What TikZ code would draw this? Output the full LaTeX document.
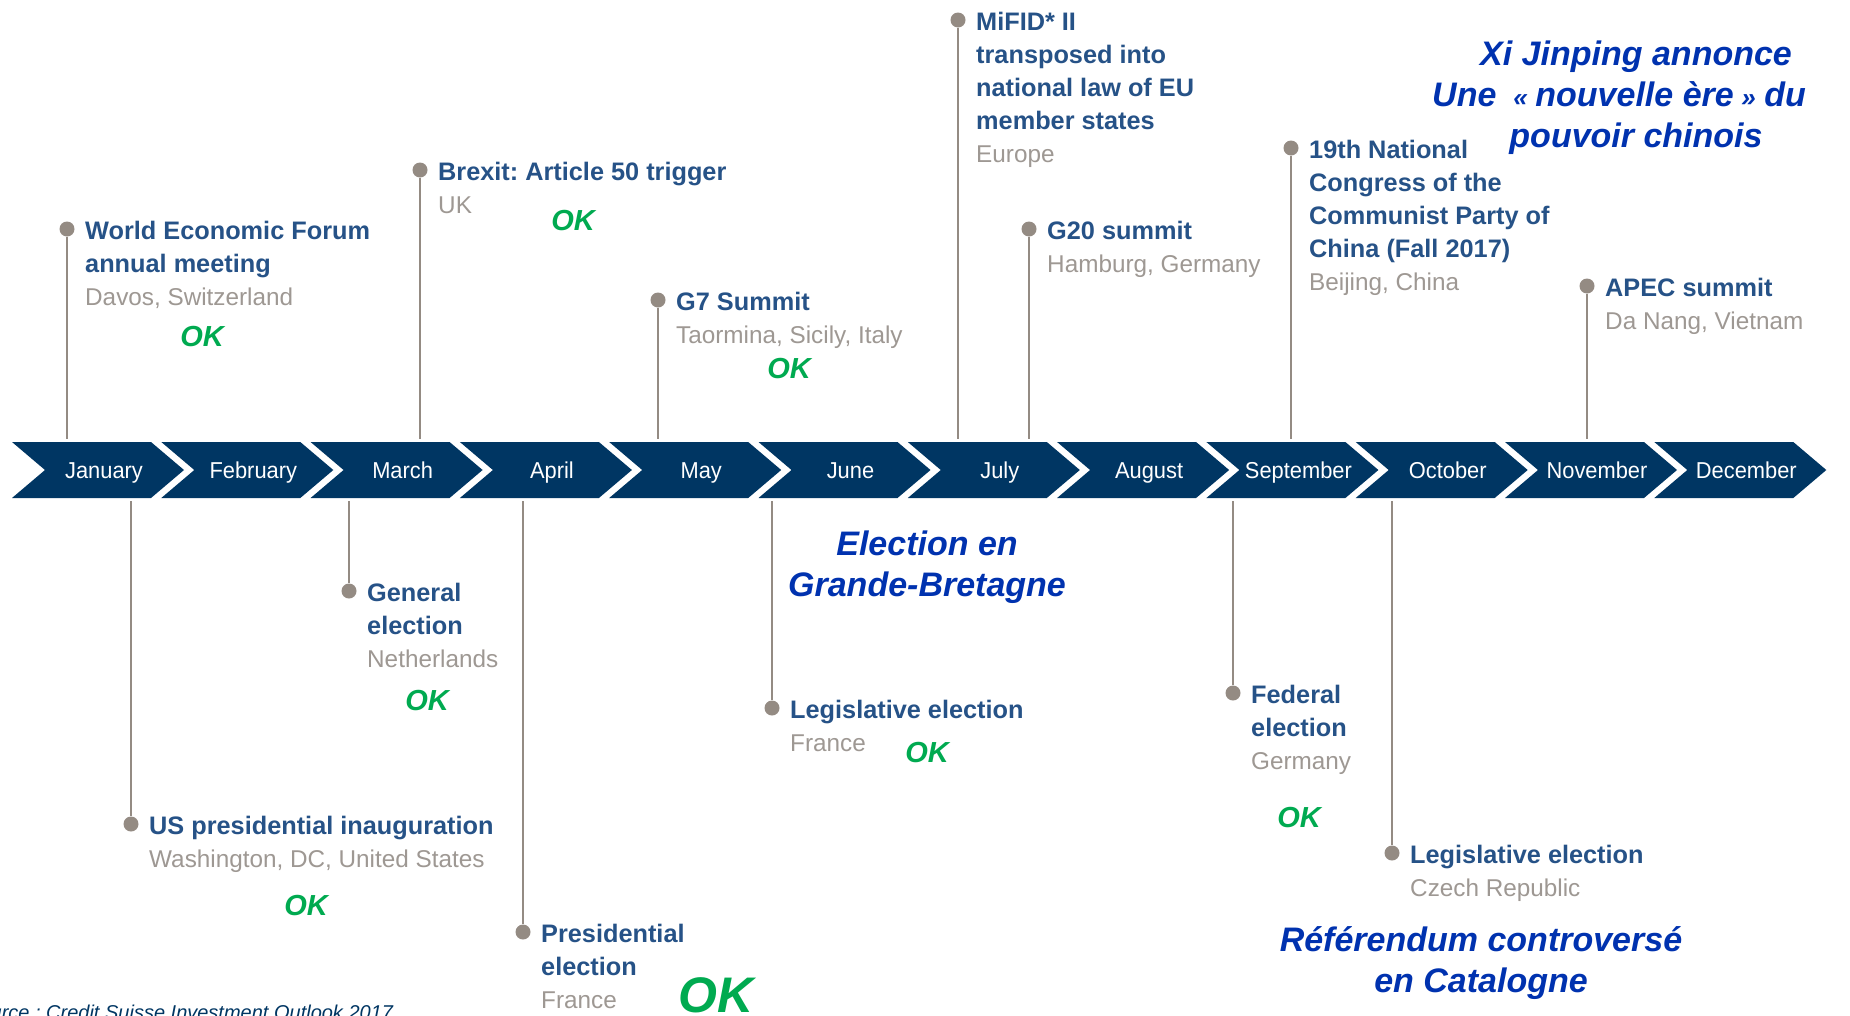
\documentclass[tikz,border=0pt]{standalone}
\usepackage{fontspec}
\setmainfont{Liberation Sans}
\newfontfamily\monthfont{Liberation Sans}[FakeStretch=0.95]
\usetikzlibrary{calc}
\frenchspacing

\definecolor{navy}{RGB}{0,54,99}
\definecolor{evblue}{RGB}{38,82,135}
\definecolor{evgrey}{RGB}{158,152,147}
\definecolor{stem}{RGB}{148,139,131}
\definecolor{okgreen}{RGB}{0,170,80}
\definecolor{noteblue}{RGB}{0,50,175}

% event title line and event location line
\newcommand\evT[1]{{\color{evblue}\fontsize{25.3}{33}\selectfont\bfseries #1}}
\newcommand\evS[1]{{\color{evgrey}\fontsize{24.3}{33}\selectfont #1}}
% small guillemets used in the commentary
\newcommand\gql{{\fontsize{26}{30}\selectfont «}}
\newcommand\gqr{{\fontsize{26}{30}\selectfont »}}

\begin{document}
\begin{tikzpicture}[x=1pt,y=-1pt,
  evtext/.style={anchor=north west, align=left, inner sep=0pt, font=\fontsize{25}{33}\selectfont},
  evdot/.style={circle, fill=stem, minimum size=15pt, inner sep=0pt},
  stemline/.style={draw=stem, line width=2.6pt},
  ok/.style={text=okgreen, inner sep=0pt, font=\fontsize{29}{33}\selectfont\bfseries\itshape},
  bigok/.style={text=okgreen, inner sep=0pt, font=\fontsize{50}{52}\selectfont\bfseries\itshape},
  note/.style={text=noteblue, align=center, inner sep=0pt, anchor=north, font=\fontsize{34}{41}\selectfont\bfseries\itshape},
  month/.style={text=white, inner sep=0pt, anchor=base, font=\monthfont\fontsize{23}{26}\selectfont},
  chev/.style={fill=navy}]

\useasboundingbox (0,0) rectangle (1850,1015);
\fill[white] (0,0) rectangle (1850,1015);

% ---- month chevrons ----
\foreach \i/\mname in {0/January,1/February,2/March,3/April,4/May,5/June,
                       6/July,7/August,8/September,9/October,10/November,11/December}{
  \pgfmathsetmacro\xo{12+149.3*\i}
  \fill[chev] (\xo,442) -- ++(139,0) -- ++(33,28) -- ++(-33,28) -- ++(-139,0) -- ++(33,-28) -- cycle;
  \node[month] (m\i) at (\xo+92,478) {\mname};
}

% ---- events above the timeline ----
\node[evdot] (wef) at (67,229) {};
\node[evtext] (weftxt) at ($(wef)+(18,-8.5)$) {\evT{World Economic Forum}\\\evT{annual meeting}\\\evS{Davos, Switzerland}};
\coordinate (wefbar) at (67,439);
\draw[stemline] (wef) -- (wefbar);
\node[ok] (wefok) at (202,337) {OK};

\node[evdot] (brexit) at (420,170) {};
\node[evtext] (brexittxt) at ($(brexit)+(18,-8.5)$) {\evT{Brexit: Article 50 trigger}\\\evS{UK}};
\coordinate (brexitbar) at (420,439);
\draw[stemline] (brexit) -- (brexitbar);
\node[ok] (brexitok) at (573,221) {OK};

\node[evdot] (gseven) at (658,300) {};
\node[evtext] (gseventxt) at ($(gseven)+(18,-8.5)$) {\evT{G7 Summit}\\\evS{Taormina, Sicily, Italy}};
\coordinate (gsevenbar) at (658,439);
\draw[stemline] (gseven) -- (gsevenbar);
\node[ok] (gsevenok) at (789,369) {OK};

\node[evdot] (mifid) at (958,20) {};
\node[evtext] (mifidtxt) at ($(mifid)+(18,-8.5)$) {\evT{MiFID* II}\\\evT{transposed into}\\\evT{national law of EU}\\\evT{member states}\\\evS{Europe}};
\coordinate (mifidbar) at (958,439);
\draw[stemline] (mifid) -- (mifidbar);

\node[evdot] (gtwenty) at (1029,229) {};
\node[evtext] (gtwentytxt) at ($(gtwenty)+(18,-8.5)$) {\evT{G20 summit}\\\evS{Hamburg, Germany}};
\coordinate (gtwentybar) at (1029,439);
\draw[stemline] (gtwenty) -- (gtwentybar);

\node[evdot] (congress) at (1291,148) {};
\node[evtext] (congresstxt) at ($(congress)+(18,-8.5)$) {\evT{19th National}\\\evT{Congress of the}\\\evT{Communist Party of}\\\evT{China (Fall 2017)}\\\evS{Beijing, China}};
\coordinate (congressbar) at (1291,439);
\draw[stemline] (congress) -- (congressbar);

\node[evdot] (apec) at (1587,286) {};
\node[evtext] (apectxt) at ($(apec)+(18,-8.5)$) {\evT{APEC summit}\\\evS{Da Nang, Vietnam}};
\coordinate (apecbar) at (1587,439);
\draw[stemline] (apec) -- (apecbar);

% ---- events below the timeline ----
\node[evdot] (usinaug) at (131,824) {};
\node[evtext] (usinaugtxt) at ($(usinaug)+(18,-8.5)$) {\evT{US presidential inauguration}\\\evS{Washington, DC, United States}};
\coordinate (usinaugbar) at (131,501);
\draw[stemline] (usinaugbar) -- (usinaug);
\node[ok] (usinaugok) at (306,906) {OK};

\node[evdot] (nlelec) at (349,591) {};
\node[evtext] (nlelectxt) at ($(nlelec)+(18,-8.5)$) {\evT{General}\\\evT{election}\\\evS{Netherlands}};
\coordinate (nlelecbar) at (349,501);
\draw[stemline] (nlelecbar) -- (nlelec);
\node[ok] (nlelecok) at (427,701) {OK};

\node[evdot] (frpres) at (523,932) {};
\node[evtext] (frprestxt) at ($(frpres)+(18,-8.5)$) {\evT{Presidential}\\\evT{election}\\\evS{France}};
\coordinate (frpresbar) at (523,501);
\draw[stemline] (frpresbar) -- (frpres);
\node[bigok, anchor=base] (frpresok) at (716,1012) {OK};

\node[evdot] (frleg) at (772,708) {};
\node[evtext] (frlegtxt) at ($(frleg)+(18,-8.5)$) {\evT{Legislative election}\\\evS{France}};
\coordinate (frlegbar) at (772,501);
\draw[stemline] (frlegbar) -- (frleg);
\node[ok] (frlegok) at (927,753) {OK};

\node[evdot] (deelec) at (1233,693) {};
\node[evtext] (deelectxt) at ($(deelec)+(18,-8.5)$) {\evT{Federal}\\\evT{election}\\\evS{Germany}};
\coordinate (deelecbar) at (1233,501);
\draw[stemline] (deelecbar) -- (deelec);
\node[ok] (deelecok) at (1299,818) {OK};

\node[evdot] (czleg) at (1392,853) {};
\node[evtext] (czlegtxt) at ($(czleg)+(18,-8.5)$) {\evT{Legislative election}\\\evS{Czech Republic}};
\coordinate (czlegbar) at (1392,501);
\draw[stemline] (czlegbar) -- (czleg);

% ---- commentary ----
\node[note] (ukvote) at (927,531) {Election en\\Grande-Bretagne};
\node[note] (xinote) at (1636,41) {Xi Jinping annonce\\Une\hspace{0.5em}\gql\hspace{0.22em}nouvelle ère\hspace{0.22em}\gqr\hspace{0.25em}du\rule{1em}{0pt}\\pouvoir chinois};
\node[note] (catnote) at (1481,926) {Référendum controversé\\en Catalogne};

% ---- source line ----
\node[anchor=base west, inner sep=0pt, text=navy, font=\fontsize{20}{24}\selectfont\itshape] (src) at (-34,1019) {Source : Credit Suisse Investment Outlook 2017};

\end{tikzpicture}
\end{document}
